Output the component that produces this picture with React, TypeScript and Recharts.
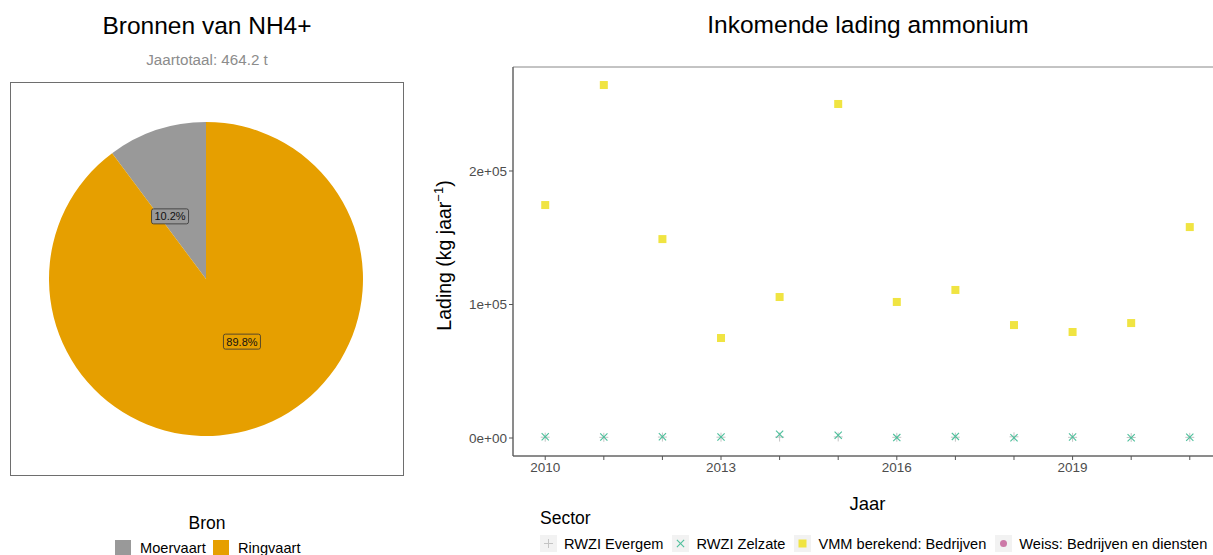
import React from "react";
import {
  PieChart,
  Pie,
  Cell,
  ScatterChart,
  Scatter,
  XAxis,
  YAxis,
  ReferenceArea,
  Label,
} from "recharts";

// pie: sources of NH4+ (ton per year)
const BRON_NAMES = ["Moervaart", "Ringvaart"];
const BRON_VALUES = [47.35, 416.85];
const BRON_COLORS = ["#999999", "#E69F00"];

// scatter: incoming ammonium load per year (kg/year)
const YEARS = [2010, 2011, 2012, 2013, 2014, 2015, 2016, 2017, 2018, 2019, 2020, 2021];
const EVERGEM = [600, 500, 700, 600, 700, 800, 500, 600, 900, 500, 400, 500];
const ZELZATE = [900, 700, 1000, 800, 2800, 2000, 300, 1200, 200, 700, 200, 600];
const VMM = [174500, 264400, 149000, 74900, 105600, 250200, 101900, 110900, 84600, 79400, 86100, 158000];
const WEISS: number[] = [];
const X_LABELED = [2010, 2013, 2016, 2019];
const Y_TICKS = [0, 100000, 200000];
const Y_TICK_LABELS = ["0e+00", "1e+05", "2e+05"];

const FONT = "'Liberation Sans', Arial, sans-serif";

const pieData = BRON_NAMES.map((name, i) => ({ name, value: BRON_VALUES[i] }));
const total = BRON_VALUES.reduce((a, b) => a + b, 0);

const toPoints = (vals: number[]) => vals.map((v, i) => ({ jaar: YEARS[i], lading: v }));

const SERIES = [
  { name: "RWZI Evergem", data: toPoints(EVERGEM), color: "#c4c4c4", shape: "plus" },
  { name: "RWZI Zelzate", data: toPoints(ZELZATE), color: "#4cbf9b", shape: "cross" },
  { name: "VMM berekend: Bedrijven", data: toPoints(VMM), color: "#F0E442", shape: "square" },
  { name: "Weiss: Bedrijven en diensten", data: toPoints(WEISS), color: "#CC79A7", shape: "circle" },
];

function Marker({ kind, x, y, color }: { kind: string; x: number; y: number; color: string }) {
  const s = 4.5;
  if (kind === "plus")
    return (
      <g stroke={color} strokeWidth={1}>
        <line x1={x - s} y1={y} x2={x + s} y2={y} />
        <line x1={x} y1={y - s} x2={x} y2={y + s} />
      </g>
    );
  if (kind === "cross")
    return (
      <g stroke={color} strokeWidth={1.1}>
        <line x1={x - 3.6} y1={y - 3.6} x2={x + 3.6} y2={y + 3.6} />
        <line x1={x - 3.6} y1={y + 3.6} x2={x + 3.6} y2={y - 3.6} />
      </g>
    );
  if (kind === "square") return <rect x={x - 4} y={y - 4} width={8} height={8} fill={color} />;
  return <circle cx={x} cy={y} r={3.5} fill={color} />;
}

function pieLabel(props: any) {
  const { cx, cy, midAngle, outerRadius, percent, index } = props;
  const RAD = Math.PI / 180;
  const a = (midAngle + 11.5) * RAD;
  const r = outerRadius * 0.46;
  const x = cx + r * Math.cos(a);
  const y = cy - r * Math.sin(a);
  const txt = (percent * 100).toFixed(1) + "%";
  const w = 37;
  const h = 15;
  return (
    <g>
      <rect x={x - w / 2} y={y - h / 2} width={w} height={h} rx={2} fill={BRON_COLORS[index]} stroke="#333" strokeWidth={0.8} />
      <text x={x} y={y + 4} textAnchor="middle" fontSize={11} fill="#111" fontFamily={FONT}>
        {txt}
      </text>
    </g>
  );
}

function YLabel(props: any) {
  const { viewBox } = props;
  const x = viewBox.x + 18;
  const y = viewBox.y + viewBox.height / 2 - 6;
  return (
    <text transform={`translate(${x},${y}) rotate(-90)`} textAnchor="middle" fontSize={19.5} fill="#000" fontFamily={FONT}>
      Lading (kg jaar
      <tspan dy={-8} fontSize={13}>−1</tspan>
      <tspan dy={8}>)</tspan>
    </text>
  );
}

const abs = (left: number, top: number, extra: React.CSSProperties = {}): React.CSSProperties => ({
  position: "absolute",
  left,
  top,
  ...extra,
});

export default function App() {
  return (
    <div style={{ position: "absolute", left: 0, top: 0, width: 1213, height: 555, overflow: "hidden", background: "#fff", fontFamily: FONT }}>
      {/* left panel: pie */}
      <div style={abs(0, 12, { width: 414, textAlign: "center", fontSize: 24.5, color: "#000" })}>Bronnen van NH4+</div>
      <div style={abs(0, 51, { width: 414, textAlign: "center", fontSize: 15.2, color: "#8c8c8c" })}>
        Jaartotaal: {total.toFixed(1)} t
      </div>
      <div style={abs(10, 82, { width: 392, height: 392, border: "1px solid #6e6e6e" })} />
      <div style={abs(0, 0)}>
        <PieChart width={414} height={500} margin={{ top: 0, right: 0, bottom: 0, left: 0 }}>
          <Pie
            data={pieData}
            dataKey="value"
            nameKey="name"
            cx={206}
            cy={279}
            outerRadius={157}
            startAngle={90}
            endAngle={450}
            stroke="none"
            labelLine={false}
            label={pieLabel}
            isAnimationActive={false}
          >
            {pieData.map((d, i) => (
              <Cell key={d.name} fill={BRON_COLORS[i]} />
            ))}
          </Pie>
        </PieChart>
      </div>
      <div style={abs(0, 513, { width: 414, textAlign: "center", fontSize: 17.5 })}>Bron</div>
      {BRON_NAMES.map((n, i) => (
        <div key={n} style={abs(115 + i * 98, 540, { display: "flex", alignItems: "center", fontSize: 14.6 })}>
          <span style={{ display: "inline-block", width: 16, height: 16, background: BRON_COLORS[i], marginRight: 9 }} />
          {n}
        </div>
      ))}

      {/* right panel: scatter */}
      <div style={abs(513, 11, { width: 710, textAlign: "center", fontSize: 24.5 })}>Inkomende lading ammonium</div>
      <div style={abs(420, 0)}>
        <ScatterChart width={810} height={555} margin={{ top: 67, right: 8, bottom: 69, left: 13 }}>
          <XAxis
            type="number"
            dataKey="jaar"
            domain={[2009.45, 2021.55]}
            ticks={YEARS}
            tickFormatter={(v: number) => (X_LABELED.includes(v) ? String(v) : "")}
            interval={0}
            allowDataOverflow
            height={30}
            tickSize={4}
            stroke="#555"
            tick={{ fill: "#4d4d4d", fontSize: 13.5, fontFamily: FONT }}
          >
            <Label value="Jaar" position="insideBottom" offset={-24} fontSize={18.5} fill="#000" fontFamily={FONT} />
          </XAxis>
          <YAxis
            type="number"
            dataKey="lading"
            domain={[-13480, 277900]}
            ticks={Y_TICKS}
            allowDataOverflow
            width={80}
            tickSize={4}
            stroke="#555"
            tickFormatter={(v: number) => Y_TICK_LABELS[Y_TICKS.indexOf(v)] ?? ""}
            tick={{ fill: "#4d4d4d", fontSize: 13.5, fontFamily: FONT }}
          >
            <Label content={YLabel} />
          </YAxis>
          <ReferenceArea x1={2009.45} x2={2021.55} y1={-13480} y2={277900} fill="none" stroke="#888" strokeWidth={1} />
          {SERIES.map((s) => (
            <Scatter
              key={s.name}
              name={s.name}
              data={s.data}
              isAnimationActive={false}
              shape={(p: any) => <Marker kind={s.shape} x={p.cx} y={p.cy} color={s.color} />}
            />
          ))}
        </ScatterChart>
      </div>
      <div style={abs(540, 508, { fontSize: 17.5 })}>Sector</div>
      <div style={abs(540, 535, { display: "flex", alignItems: "center", fontSize: 14.6, whiteSpace: "nowrap" })}>
        {SERIES.map((s) => (
          <div key={s.name} style={{ display: "flex", alignItems: "center", marginRight: 9 }}>
            <svg width={17} height={17} style={{ marginRight: 7 }}>
              <rect width={17} height={17} fill="#f2f2f2" />
              <Marker kind={s.shape} x={8.5} y={8.5} color={s.color} />
            </svg>
            {s.name}
          </div>
        ))}
      </div>
    </div>
  );
}
